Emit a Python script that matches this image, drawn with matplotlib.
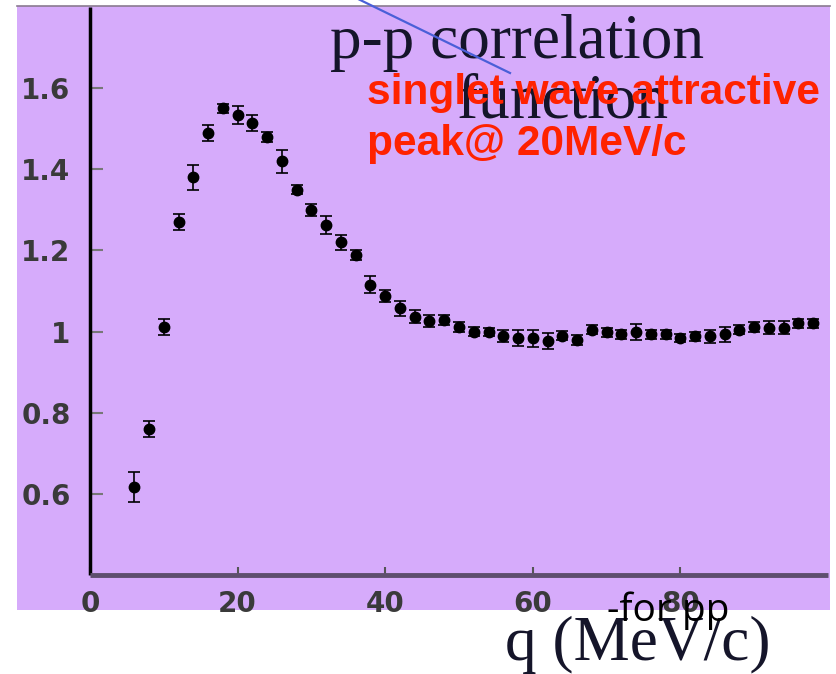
import matplotlib
matplotlib.use("Agg")
import matplotlib.pyplot as plt
from matplotlib.patches import Rectangle
from matplotlib.lines import Line2D

# p-p correlation function
q = [6, 8, 10, 12, 14, 16, 18, 20, 22, 24, 26, 28, 30, 32, 34, 36, 38, 40,
     42, 44, 46, 48, 50, 52, 54, 56, 58, 60, 62, 64, 66, 68, 70, 72, 74, 76,
     78, 80, 82, 84, 86, 88, 90, 92, 94, 96, 98]
corr = [0.617, 0.76, 1.012, 1.27, 1.38, 1.49, 1.55, 1.533, 1.514, 1.48, 1.42,
        1.35, 1.30, 1.262, 1.22, 1.188, 1.116, 1.087, 1.057, 1.037, 1.027,
        1.028, 1.012, 1.0, 0.998, 0.99, 0.985, 0.983, 0.976, 0.99, 0.98,
        1.005, 0.998, 0.993, 0.998, 0.993, 0.993, 0.985, 0.988, 0.988, 0.993,
        1.005, 1.012, 1.01, 1.01, 1.02, 1.02]
err = [0.037, 0.02, 0.02, 0.02, 0.03, 0.02, 0.012, 0.022, 0.02, 0.012, 0.028,
       0.012, 0.015, 0.022, 0.018, 0.012, 0.02, 0.015, 0.018, 0.015, 0.015,
       0.012, 0.012, 0.012, 0.01, 0.015, 0.02, 0.02, 0.02, 0.012, 0.012,
       0.01, 0.012, 0.012, 0.02, 0.012, 0.012, 0.01, 0.012, 0.015, 0.018,
       0.012, 0.012, 0.015, 0.015, 0.012, 0.012]

yticks = [0.6, 0.8, 1.0, 1.2, 1.4, 1.6]
ytick_labels = ["0.6", "0.8", "1", "1.2", "1.4", "1.6"]
xticks = [0, 20, 40, 60, 80]
xtick_labels = ["0", "20", "40", "60", "80"]

W, H = 836, 674
purple = "#d6abfb"

fig = plt.figure(figsize=(W / 100, H / 100), dpi=100)
fig.patch.set_facecolor("white")

# purple backdrop behind the whole plot
fig.patches.append(Rectangle((17 / W, 1 - 610 / H), (830 - 17) / W, (610 - 6) / H,
                             transform=fig.transFigure, facecolor=purple,
                             edgecolor="none", zorder=-5))
fig.lines.append(Line2D([17 / W, 830 / W], [1 - 6 / H, 1 - 6 / H],
                        transform=fig.transFigure, color="#8a7a90", lw=1.2,
                        zorder=-4))

ax = fig.add_axes([90 / W, 1 - 575 / H, (828 - 90) / W, (575 - 7) / H])
ax.set_facecolor("none")
ax.set_zorder(1)

ax.errorbar(q, corr, yerr=err, fmt="o", color="black", markersize=7.5,
            elinewidth=1.2, capsize=4, capthick=1.2, zorder=3)

ax.set_xlim(0, 100)
ax.set_ylim(0.4, 1.8)

ax.set_yticks(yticks)
ax.set_yticklabels(ytick_labels)
ax.set_xticks(xticks)
ax.set_xticklabels(xtick_labels)
ax.tick_params(axis="y", direction="in", length=9, width=1.5, color="#777777",
               pad=14, labelsize=20, labelcolor="#3a3a3a")
ax.tick_params(axis="x", direction="in", length=6, width=1.5, color="#555555",
               pad=11, labelsize=20, labelcolor="#3a3a3a")
for lab in ax.get_xticklabels() + ax.get_yticklabels():
    lab.set_fontweight("bold")

ax.spines["top"].set_visible(False)
ax.spines["right"].set_visible(False)
ax.spines["left"].set_color("black")
ax.spines["left"].set_linewidth(2.5)
ax.spines["left"].set_capstyle("butt")
ax.spines["bottom"].set_color("#5e4e6e")
ax.spines["bottom"].set_linewidth(3.5)
ax.spines["bottom"].set_capstyle("butt")

# annotations placed in figure pixels
def fx(px):
    return px / W

def fy(py):
    return 1 - py / H

fig.text(fx(330), fy(58), "p-p correlation", family="Liberation Serif",
         fontsize=45.5, color="#15152a", va="baseline", zorder=5)
fig.text(fx(457), fy(118), "function", family="Liberation Serif",
         fontsize=45.5, color="#15152a", va="baseline", zorder=5)
fig.lines.append(Line2D([fx(352), fx(510)], [fy(-4), fy(73)],
                        transform=fig.transFigure, color="#4a5fd8", lw=1.6,
                        zorder=6))
fig.text(fx(367), fy(104), "singlet wave attractive", family="Liberation Sans",
         fontweight="bold", fontsize=30.5, color="#ff2200", va="baseline",
         zorder=7)
fig.text(fx(367), fy(155), "peak@ 20MeV/c", family="Liberation Sans",
         fontweight="bold", fontsize=30.5, color="#ff2200", va="baseline",
         zorder=7)
fig.text(fx(505), fy(660), "q (MeV/c)", family="Liberation Serif",
         fontsize=45.5, color="#15152a", va="baseline", zorder=5)
fig.text(fx(607), fy(621), "-for pp", family="Open Sans",
         fontsize=28, color="black", va="baseline", zorder=7)

fig.savefig("out.png", dpi=100)
